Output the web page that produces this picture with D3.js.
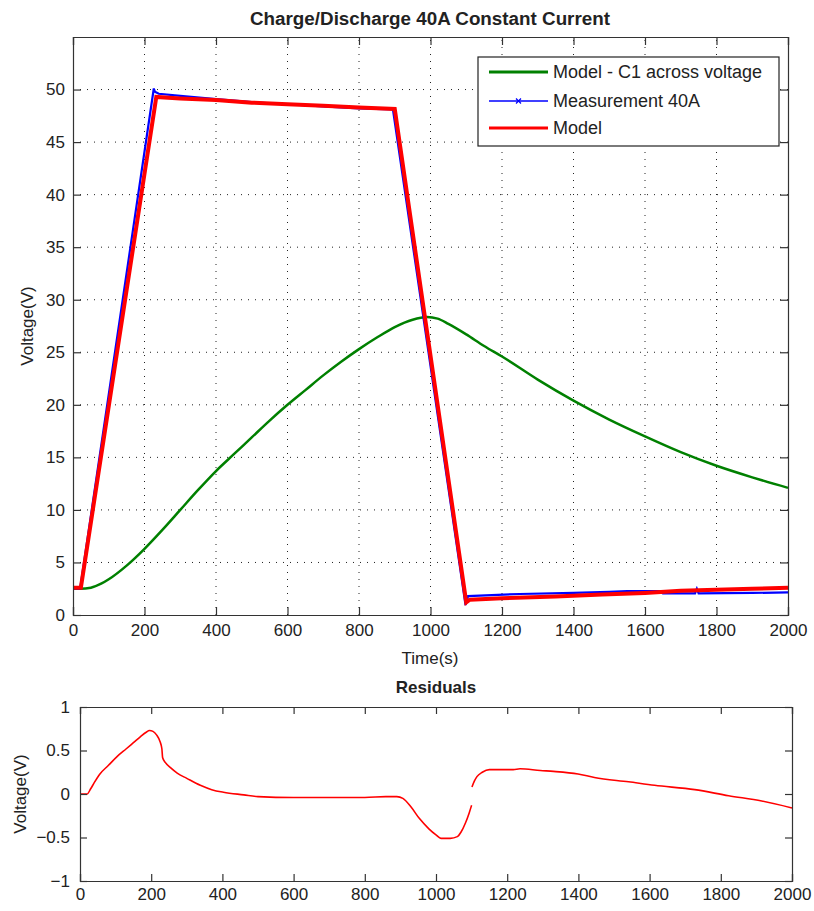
<!DOCTYPE html>
<html>
<head>
<meta charset="utf-8">
<script src="https://cdn.jsdelivr.net/npm/d3@7"></script>
<style>
html,body{margin:0;padding:0;background:#fff;}
text{font-family:"Liberation Sans",Arial,Helvetica,sans-serif;fill:#222;}
</style>
</head>
<body>
<svg id="chart" width="814" height="911"></svg>
<script>
// ---- data ----
const titleText = "Charge/Discharge 40A Constant Current";
const residualTitle = "Residuals";
const seriesNames = ["Model - C1 across voltage", "Measurement 40A", "Model"];
const seriesColors = ["#008000", "#0000ff", "#ff0000"];

const xTicks = [0,200,400,600,800,1000,1200,1400,1600,1800,2000];
const yTicksTop = [0,5,10,15,20,25,30,35,40,45,50];
const yTicksRes = [-1,-0.5,0,0.5,1];

// Model - C1 across voltage (green)
const c1Time = [0,20,50,80,100,150,200,250,300,350,400,450,500,550,600,650,700,750,800,850,900,950,990,1020,1050,1100,1150,1200,1300,1400,1500,1600,1700,1800,1900,2000];
const c1Volt = [2.5,2.5,2.6,3.0,3.4,4.7,6.3,8.1,10.0,11.9,13.7,15.3,16.9,18.5,20.0,21.4,22.8,24.1,25.3,26.4,27.4,28.1,28.35,28.2,27.7,26.7,25.6,24.6,22.4,20.4,18.6,17.0,15.5,14.2,13.1,12.1];

// Measurement 40A (blue)
const measTime = [0,20,226,229,240,300,400,500,600,700,800,895,1098,1105,1250,1400,1500,1550,1640,1650,1740,1745,1750,1900,2000];
const measVolt = [2.5,2.5,50.1,49.8,49.6,49.4,49.1,48.8,48.6,48.4,48.2,48.1,0.95,1.8,2.0,2.1,2.2,2.28,2.28,2.06,2.06,2.5,2.06,2.1,2.15];

// Model (red)
const modelTime = [0,22,233,300,400,500,600,700,800,900,1100,1110,1200,1350,1480,1600,1700,1800,1900,2000];
const modelVolt = [2.6,2.6,49.3,49.15,49.0,48.75,48.6,48.45,48.3,48.15,1.2,1.45,1.6,1.75,1.95,2.1,2.3,2.4,2.5,2.6];

// Residuals (two segments: before and after the jump at 1100 s)
const resTimeA = [0,20,30,40,56,80,104,130,150,170,186,195,205,215,225,230,232,240,255,273,300,338,370,403,460,500,600,700,800,859,890,907,930,953,980,1000,1014,1040,1060,1070,1083,1093,1100];
const resValA  = [0,0,0.06,0.13,0.23,0.33,0.43,0.52,0.59,0.66,0.71,0.73,0.72,0.68,0.60,0.52,0.42,0.36,0.30,0.24,0.18,0.10,0.05,0.02,-0.01,-0.03,-0.04,-0.04,-0.04,-0.03,-0.03,-0.05,-0.15,-0.28,-0.40,-0.47,-0.51,-0.51,-0.49,-0.44,-0.33,-0.22,-0.13];
const resTimeB = [1101,1108,1115,1130,1150,1217,1236,1293,1330,1399,1445,1541,1614,1727,1822,1915,2000];
const resValB  = [0.08,0.15,0.20,0.25,0.28,0.28,0.29,0.27,0.26,0.23,0.19,0.14,0.10,0.05,-0.02,-0.08,-0.16];

// ---- drawing ----
const svg = d3.select("#chart");
const fs = 17;

function zip(xs, ys){ return xs.map((x,i)=>[x, ys[i]]); }

function drawGrid(g, x, y, xt, yt) {
  const [x0,x1] = x.range(); const [y0,y1] = y.range();
  g.append("g").selectAll("line").data(xt.slice(1,-1)).join("line")
    .attr("x1",d=>x(d)).attr("x2",d=>x(d)).attr("y1",y0).attr("y2",y1)
    .attr("stroke","#222").attr("stroke-width",1).attr("stroke-dasharray","1,6");
  g.append("g").selectAll("line").data(yt.slice(1)).join("line")
    .attr("y1",d=>y(d)).attr("y2",d=>y(d)).attr("x1",x0).attr("x2",x1)
    .attr("stroke","#222").attr("stroke-width",1).attr("stroke-dasharray","1,6");
}

function drawFrame(g, x, y, xt, yt, fmtY, tickLen, ylabGap, xlabDy) {
  const [x0,x1] = x.range(); const [y0,y1] = y.range();
  const axisColor = "#333";
  const gb = g.append("g").attr("transform",`translate(0,${y0})`)
    .call(d3.axisBottom(x).tickValues(xt).tickSize(-tickLen).tickPadding(xlabDy).tickFormat(d3.format("d")));
  const gt = g.append("g").attr("transform",`translate(0,${y1})`)
    .call(d3.axisTop(x).tickValues(xt).tickSize(-tickLen).tickFormat(""));
  const gl = g.append("g").attr("transform",`translate(${x0},0)`)
    .call(d3.axisLeft(y).tickValues(yt).tickSize(-tickLen).tickPadding(ylabGap).tickFormat(fmtY));
  const gr = g.append("g").attr("transform",`translate(${x1},0)`)
    .call(d3.axisRight(y).tickValues(yt).tickSize(-tickLen).tickFormat(""));
  [gb,gt,gl,gr].forEach(a=>{
    a.select(".domain").attr("stroke",axisColor).attr("stroke-width",1.2);
    a.selectAll(".tick line").attr("stroke",axisColor).attr("stroke-width",1.2);
    a.selectAll(".tick text").attr("fill","#222").style("font-size",fs+"px")
      .style("font-family",'"Liberation Sans",Arial,sans-serif');
  });
}

// ===== Top plot =====
const xTop = d3.scaleLinear().domain([0,2000]).range([73,788]);
const yTop = d3.scaleLinear().domain([0,55]).range([615,37]);
const gTop = svg.append("g");
drawGrid(gTop, xTop, yTop, xTicks, yTicksTop);

const lineSmooth = d3.line().x(d=>xTop(d[0])).y(d=>yTop(d[1])).curve(d3.curveMonotoneX);
const lineLin = d3.line().x(d=>xTop(d[0])).y(d=>yTop(d[1]));
gTop.append("path").datum(zip(c1Time,c1Volt)).attr("d",lineSmooth)
  .attr("fill","none").attr("stroke",seriesColors[0]).attr("stroke-width",2.5);
gTop.append("path").datum(zip(measTime,measVolt)).attr("d",lineLin)
  .attr("fill","none").attr("stroke",seriesColors[1]).attr("stroke-width",2.2);
gTop.append("path").datum(zip(modelTime,modelVolt)).attr("d",lineLin)
  .attr("fill","none").attr("stroke",seriesColors[2]).attr("stroke-width",4);

drawFrame(gTop, xTop, yTop, xTicks, yTicksTop, d3.format("d"), 8, 8, 9);

// legend
const lg = gTop.append("g");
lg.append("rect").attr("x",478).attr("y",57).attr("width",301).attr("height",89)
  .attr("fill","#fff").attr("stroke","#222").attr("stroke-width",1.2);
const legY = [72,101,128];
seriesNames.forEach((n,i)=>{
  lg.append("line").attr("x1",489).attr("x2",548).attr("y1",legY[i]).attr("y2",legY[i])
    .attr("stroke",seriesColors[i]).attr("stroke-width",i===1?1.5:3);
  if (i===1) {
    lg.append("path").attr("d",`M516,${legY[i]-2.5}L521,${legY[i]+2.5}M516,${legY[i]+2.5}L521,${legY[i]-2.5}`)
      .attr("stroke",seriesColors[i]).attr("stroke-width",1.2);
  }
  lg.append("text").attr("x",553).attr("y",legY[i]).attr("dy","0.36em")
    .style("font-size","18px").text(n);
});

// titles and labels
svg.append("text").attr("x",430).attr("y",25).attr("text-anchor","middle")
  .style("font-size","18px").style("font-weight","bold").attr("fill","#000")
  .attr("textLength",360).attr("lengthAdjust","spacingAndGlyphs").text(titleText);
svg.append("text").attr("x",430).attr("y",664).attr("text-anchor","middle")
  .style("font-size",fs+"px").text("Time(s)");
svg.append("text").attr("transform","translate(33,326) rotate(-90)").attr("text-anchor","middle")
  .style("font-size",fs+"px").text("Voltage(V)");

// ===== Residual plot =====
const xRes = d3.scaleLinear().domain([0,2000]).range([80,792]);
const yRes = d3.scaleLinear().domain([-1,1]).range([881,707]);
const gRes = svg.append("g");
const lineRes = d3.line().x(d=>xRes(d[0])).y(d=>yRes(d[1])).curve(d3.curveMonotoneX);
[zip(resTimeA,resValA), zip(resTimeB,resValB)].forEach(seg=>{
  gRes.append("path").datum(seg).attr("d",lineRes)
    .attr("fill","none").attr("stroke","#ff0000").attr("stroke-width",1.6);
});
drawFrame(gRes, xRes, yRes, xTicks, yTicksRes, d=>d3.format("")(d), 7, 10, 7);

svg.append("text").attr("x",436).attr("y",693).attr("text-anchor","middle")
  .style("font-size","17px").style("font-weight","bold").attr("fill","#000")
  .text(residualTitle);
svg.append("text").attr("transform","translate(26,794) rotate(-90)").attr("text-anchor","middle")
  .style("font-size",fs+"px").text("Voltage(V)");
</script>
</body>
</html>
